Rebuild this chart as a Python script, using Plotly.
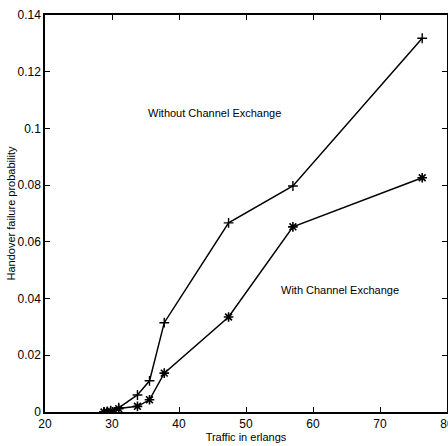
import plotly.graph_objects as go

traffic = [28.8, 29.3, 29.8, 31.0, 33.8, 35.6, 37.8, 47.4, 57.0, 76.3]
without_ce = [0.0, 0.0002, 0.0005, 0.0015, 0.006, 0.011, 0.0315, 0.0667, 0.0797, 0.1318]
with_ce = [0.0, 0.0001, 0.0003, 0.0012, 0.002, 0.0043, 0.0137, 0.0335, 0.0653, 0.0826]

font = "Liberation Sans, Arial, sans-serif"

fig = go.Figure()
fig.add_trace(go.Scatter(
    x=traffic, y=without_ce, mode="lines+markers",
    line=dict(color="black", width=1.5),
    marker=dict(symbol="cross-thin", size=7, color="black",
                line=dict(color="black", width=1.4)),
    showlegend=False))
fig.add_trace(go.Scatter(
    x=traffic, y=with_ce, mode="lines+markers",
    line=dict(color="black", width=1.5),
    marker=dict(symbol="asterisk-open", size=8, color="black",
                line=dict(color="black", width=1.6)),
    showlegend=False))

fig.add_annotation(x=45.3, y=0.1053, text="Without Channel Exchange",
                   showarrow=False, font=dict(family=font, size=11, color="black"))
fig.add_annotation(x=64.1, y=0.043, text="With Channel Exchange",
                   showarrow=False, font=dict(family=font, size=11, color="black"))

axis_common = dict(showline=True, linecolor="black", linewidth=1.5, mirror="ticks",
                   ticks="inside", ticklen=5, tickwidth=1, tickcolor="black",
                   showgrid=False, zeroline=False, ticklabeloverflow="allow",
                   automargin=False,
                   tickfont=dict(family=font, size=12, color="black"))

fig.update_xaxes(range=[20, 80], dtick=10, tick0=20,
                 title=dict(text="Traffic in erlangs", standoff=2,
                            font=dict(family=font, size=11, color="black")),
                 **axis_common)
fig.update_yaxes(range=[0, 0.14], dtick=0.02, tick0=0,
                 title=dict(text="Handover failure probability", standoff=0,
                            font=dict(family=font, size=11, color="black")),
                 **axis_common)

fig.update_layout(width=448, height=446,
                  margin=dict(l=45, r=1, t=15, b=34),
                  paper_bgcolor="white", plot_bgcolor="white")

fig.write_html("out.html")
